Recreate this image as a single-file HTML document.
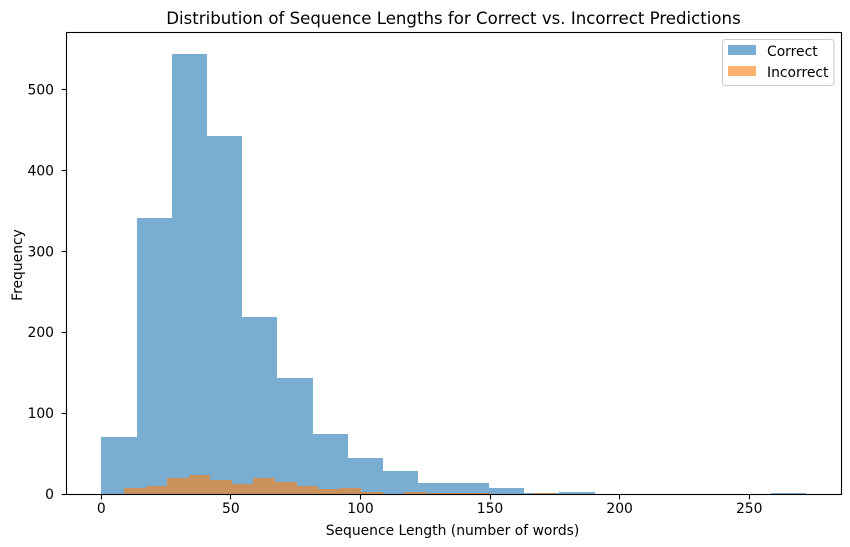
<!DOCTYPE html>
<html lang="en">
<head>
<meta charset="utf-8">
<title>Distribution of Sequence Lengths</title>
<style>
html,body{margin:0;padding:0;background:#fff;width:850px;height:547px;overflow:hidden}
svg{display:block}
text{font-family:"DejaVu Sans","Liberation Sans",sans-serif;fill:#000}
</style>
</head>
<body>
<svg id="chart" xmlns="http://www.w3.org/2000/svg" width="850" height="547" viewBox="0 0 850 547"></svg>
<script>
const correctCounts = [70, 341, 544, 443, 219, 143, 74, 44, 28, 13, 13, 7, 1, 3, 0, 0, 0, 0, 0, 1];
const incorrectCounts = [7, 10, 20, 23, 17, 12, 20, 15, 10, 6, 8, 3, 0, 3, 1, 1, 1, 0, 0, 1];
const correctRange = [0, 272];
const incorrectRange = [8.8, 175.2];
const xTicks = [0, 50, 100, 150, 200, 250];
const yTicks = [0, 100, 200, 300, 400, 500];

const svg = document.getElementById('chart');
const NS = 'http://www.w3.org/2000/svg';
const plot = {left: 66, right: 841.5, top: 32, bottom: 494};

const xDomainPad = (correctRange[1] - correctRange[0]) * 0.05;
const xMin = correctRange[0] - xDomainPad;
const xMax = correctRange[1] + xDomainPad;
const yMax = Math.max(...correctCounts, ...incorrectCounts) * 1.05;

function xScale(v) {
  return plot.left + (v - xMin) / (xMax - xMin) * (plot.right - plot.left);
}
function yScale(v) {
  return plot.bottom - v / yMax * (plot.bottom - plot.top);
}
function make(tag, attrs) {
  const el = document.createElementNS(NS, tag);
  for (const k in attrs) el.setAttribute(k, attrs[k]);
  svg.appendChild(el);
  return el;
}
function drawBars(counts, range, fill, name) {
  const width = (range[1] - range[0]) / counts.length;
  counts.forEach(function (c, i) {
    if (c <= 0) return;
    const x0 = Math.round(xScale(range[0] + i * width));
    const x1 = Math.round(xScale(range[0] + (i + 1) * width));
    const y = Math.round(yScale(c));
    const r = make('rect', {x: x0, y: y, width: x1 - x0, height: plot.bottom - y, fill: fill, 'fill-opacity': 0.6, 'shape-rendering': 'crispEdges'});
    
    
  });
}

drawBars(correctCounts, correctRange, '#1f77b4', 'correct');
drawBars(incorrectCounts, incorrectRange, '#ff7f0e', 'incorrect');

xTicks.forEach(function (t) {
  const x = xScale(t);
  const px = Math.floor(x) + 0.5;
  const l = make('line', {x1: px, x2: px, y1: plot.bottom, y2: plot.bottom + 5.4, stroke: '#000', 'stroke-width': 1.1});
  
  
  const s = make('text', {x: x, y: 513, 'text-anchor': 'middle', 'font-size': 13.89});
  
  
  s.textContent = t;
});
yTicks.forEach(function (t) {
  const y = yScale(t);
  const py = Math.floor(y) + 0.5;
  const l = make('line', {x1: plot.left - 4.4, x2: plot.left + 0.5, y1: py, y2: py, stroke: '#000', 'stroke-width': 1.1});
  
  
  const s = make('text', {x: plot.left - 12, y: y + 5, 'text-anchor': 'end', 'font-size': 13.89});
  
  
  s.textContent = t;
});

const frame = make('rect', {x: plot.left + 0.5, y: plot.top + 0.5, width: plot.right - plot.left - 0.5, height: plot.bottom - plot.top, fill: 'none', stroke: '#000', 'stroke-width': 1.1});



const title = make('text', {x: 453.5, y: 24, 'text-anchor': 'middle', 'font-size': 16.6});


title.textContent = 'Distribution of Sequence Lengths for Correct vs. Incorrect Predictions';

const xTitle = make('text', {x: 452.5, y: 535, 'text-anchor': 'middle', 'font-size': 13.89});


xTitle.textContent = 'Sequence Length (number of words)';

const yTitle = make('text', {x: 0, y: 0, 'text-anchor': 'middle', 'font-size': 13.89, transform: 'translate(22 265) rotate(-90)'});


yTitle.textContent = 'Frequency';

const legendBox = make('rect', {x: 722.5, y: 39.5, width: 111.5, height: 46, rx: 3, fill: '#fff', 'fill-opacity': 0.8, stroke: '#ccc', 'stroke-width': 1.1});



const swatchCorrect = make('rect', {x: 728, y: 45, width: 28, height: 10, fill: '#1f77b4', 'fill-opacity': 0.6});


const labelCorrect = make('text', {x: 767, y: 56, 'font-size': 13.89});


labelCorrect.textContent = 'Correct';

const swatchIncorrect = make('rect', {x: 728, y: 66, width: 28, height: 10, fill: '#ff7f0e', 'fill-opacity': 0.6});


const labelIncorrect = make('text', {x: 767, y: 77, 'font-size': 13.89});


labelIncorrect.textContent = 'Incorrect';
</script>
</body>
</html>
